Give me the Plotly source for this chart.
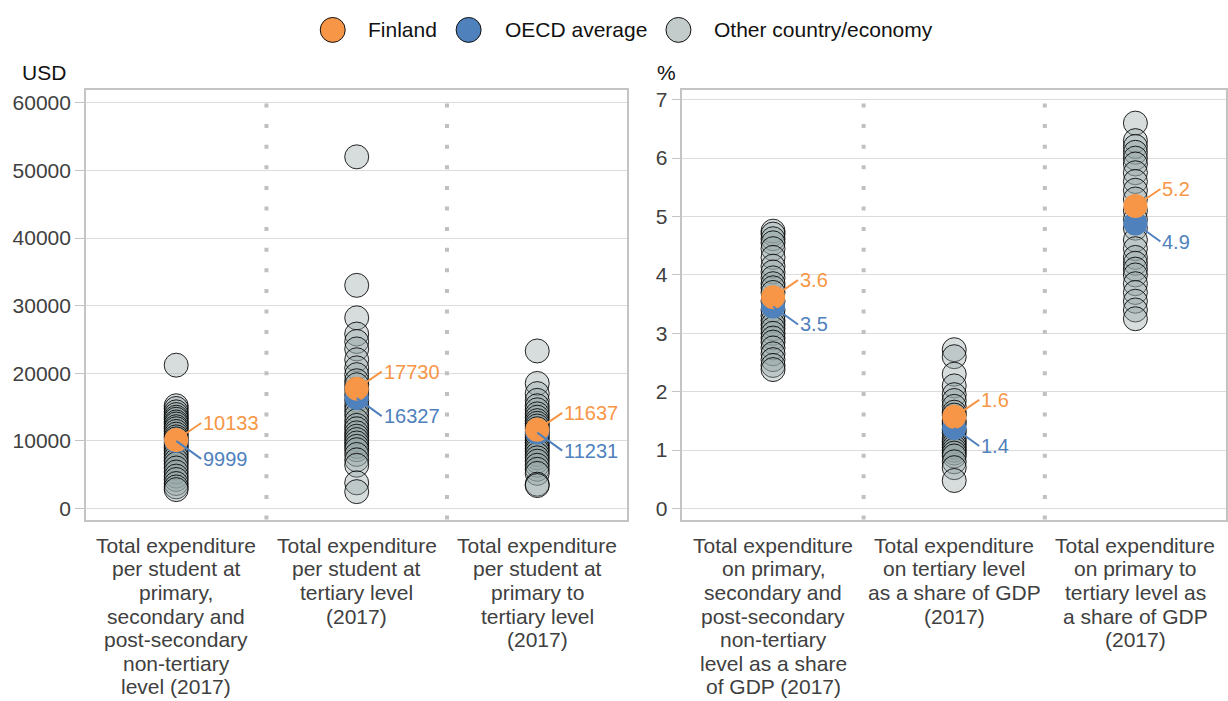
import plotly.graph_objects as go

# ---------------- data ----------------
usd_categories = [
    ["Total expenditure", "per student at", "primary,", "secondary and", "post-secondary", "non-tertiary", "level (2017)"],
    ["Total expenditure", "per student at", "tertiary level", "(2017)"],
    ["Total expenditure", "per student at", "primary to", "tertiary level", "(2017)"],
]
pct_categories = [
    ["Total expenditure", "on primary,", "secondary and", "post-secondary", "non-tertiary", "level as a share", "of GDP (2017)"],
    ["Total expenditure", "on tertiary level", "as a share of GDP", "(2017)"],
    ["Total expenditure", "on primary to", "tertiary level as", "a share of GDP", "(2017)"],
]

usd_other_1 = [21200, 15200, 14800, 14300, 13900, 13500, 13200, 12800, 12500, 12100, 11800, 11400,
               11000, 10600, 10300, 9800, 9400, 9000, 8600, 8100, 7600, 7100, 6600, 6000, 5400,
               4800, 4300, 3700, 3200, 2800]
usd_other_2 = [52000, 33000, 28200, 25800, 24700, 23600, 22000, 20800, 19800, 18900, 18300, 17600,
               16800, 16000, 15200, 14500, 13800, 13000, 12300, 11800, 11200, 10700, 10200, 9700,
               9200, 8700, 8000, 7200, 6400, 3800, 2500]
usd_other_3 = [23300, 18500, 17000, 16000, 15200, 14600, 14000, 13500, 13000, 12600, 12200, 11800,
               11300, 10900, 10500, 10100, 9700, 9300, 8900, 8500, 8000, 7500, 7000, 6400, 5800,
               5200, 3600, 3400]
usd_finland = [10133, 17730, 11637]
usd_oecd = [9999, 16327, 11231]

pct_other_1 = [4.75, 4.70, 4.62, 4.55, 4.45, 4.30, 4.15, 4.05, 3.95, 3.85, 3.78, 3.70, 3.55, 3.40,
               3.30, 3.22, 3.15, 3.08, 3.00, 2.92, 2.85, 2.75, 2.65, 2.55, 2.45, 2.38]
pct_other_2 = [2.72, 2.60, 2.30, 2.10, 1.95, 1.85, 1.75, 1.65, 1.60, 1.50, 1.45, 1.35, 1.30, 1.20,
               1.15, 1.10, 1.05, 1.00, 0.95, 0.90, 0.80, 0.70, 0.48]
pct_other_3 = [6.60, 6.30, 6.20, 6.10, 6.00, 5.90, 5.75, 5.60, 5.45, 5.30, 5.10, 4.95, 4.80, 4.60,
               4.45, 4.30, 4.20, 4.10, 4.00, 3.85, 3.70, 3.55, 3.40, 3.25]
pct_finland = [3.62, 1.57, 5.18]
pct_oecd = [3.46, 1.38, 4.88]

usd_ticks = [0, 10000, 20000, 30000, 40000, 50000, 60000]
pct_ticks = [0, 1, 2, 3, 4, 5, 6, 7]

legend_names = ["Finland", "OECD average", "Other country/economy"]

# ---------------- style ----------------
W, H = 1228, 701
FONT = "Arial, Liberation Sans, sans-serif"
ORANGE = "#F79646"
BLUE = "#4F81BD"
OTHER_FILL = "rgba(150,165,165,0.38)"
AXIS_COL = "#c4c4c4"
GRID_COL = "#dcdcdc"
TEXT_COL = "#404040"

def px_x(p):
    return p / W

def px_y(p):
    return (H - p) / H

fig = go.Figure()

panels = [
    dict(xa="x", ya="y", others=[usd_other_1, usd_other_2, usd_other_3],
         fin=usd_finland, oecd=usd_oecd, fmt=lambda v: f"{v:d}", cats=usd_categories),
    dict(xa="x2", ya="y2", others=[pct_other_1, pct_other_2, pct_other_3],
         fin=pct_finland, oecd=pct_oecd, fmt=lambda v: f"{v:.1f}", cats=pct_categories),
]

annotations = []
shapes = []

for p in panels:
    for i, vals in enumerate(p["others"]):
        fig.add_trace(go.Scatter(
            x=[i] * len(vals), y=vals, xaxis=p["xa"], yaxis=p["ya"], mode="markers",
            marker=dict(size=24, color=OTHER_FILL, line=dict(color="rgba(0,0,0,0.85)", width=1)),
            showlegend=False, hoverinfo="y"))
    fig.add_trace(go.Scatter(
        x=[0, 1, 2], y=p["oecd"], xaxis=p["xa"], yaxis=p["ya"], mode="markers",
        marker=dict(size=24, color=BLUE, line=dict(width=0)), showlegend=False))
    fig.add_trace(go.Scatter(
        x=[0, 1, 2], y=p["fin"], xaxis=p["xa"], yaxis=p["ya"], mode="markers",
        marker=dict(size=24, color=ORANGE, line=dict(width=0)), showlegend=False))
    for i in range(3):
        annotations.append(dict(
            x=i, y=p["oecd"][i], xref=p["xa"], yref=p["ya"], text=p["fmt"](p["oecd"][i]),
            showarrow=True, arrowhead=0, arrowwidth=2, arrowcolor=BLUE, ax=25, ay=18,
            xanchor="left", yanchor="middle", font=dict(family=FONT, size=20, color=BLUE)))
        annotations.append(dict(
            x=i, y=p["fin"][i], xref=p["xa"], yref=p["ya"], text=p["fmt"](p["fin"][i]),
            showarrow=True, arrowhead=0, arrowwidth=2, arrowcolor=ORANGE, ax=25, ay=-17,
            xanchor="left", yanchor="middle", font=dict(family=FONT, size=20, color=ORANGE)))
    # category labels, one line per annotation
    for i, lines in enumerate(p["cats"]):
        for j, line in enumerate(lines):
            annotations.append(dict(
                x=i, xref=p["xa"], y=px_y(545 + j * 23.6), yref="paper", text=line,
                showarrow=False, xanchor="center", yanchor="middle",
                font=dict(family=FONT, size=21, color=TEXT_COL)))
    # dotted separators
    for s in (0.5, 1.5):
        shapes.append(dict(type="line", xref=p["xa"], x0=s, x1=s,
                           yref=p["ya"] + " domain", y0=0, y1=1,
                           line=dict(color="#c0c0c0", width=4, dash="4px,16.6px")))

# axis unit titles
annotations.append(dict(x=px_x(20), y=px_y(71), xref="paper", yref="paper", text="USD",
                        showarrow=False, xanchor="left", yanchor="middle",
                        font=dict(family=FONT, size=21, color="#111")))
annotations.append(dict(x=px_x(656), y=px_y(71), xref="paper", yref="paper", text="%",
                        showarrow=False, xanchor="left", yanchor="middle",
                        font=dict(family=FONT, size=21, color="#111")))

# custom legend (large markers)
legend_colors = [ORANGE, BLUE, "#c3cbcb"]
legend_cx = [333, 469, 679]
legend_tx = [366, 503, 713]
for name, col, cx, tx in zip(legend_names, legend_colors, legend_cx, legend_tx):
    r = 12.5
    shapes.append(dict(type="circle", xref="paper", yref="paper",
                       x0=px_x(cx - r), x1=px_x(cx + r), y0=px_y(28 + r), y1=px_y(28 - r),
                       fillcolor=col, line=dict(color="#111", width=1)))
    annotations.append(dict(x=px_x(tx), y=px_y(28), xref="paper", yref="paper", text=name,
                            showarrow=False, xanchor="left", yanchor="middle",
                            font=dict(family=FONT, size=21, color="#111")))

y_dom = [px_y(519), px_y(88)]
common_x = dict(range=[-0.5, 2.5], showticklabels=False, showgrid=False, zeroline=False,
                showline=True, mirror=True, linecolor=AXIS_COL, linewidth=1.5, ticks="", fixedrange=True)
common_y = dict(showgrid=True, gridcolor=GRID_COL, gridwidth=1, zeroline=False, showline=True,
                mirror=True, linecolor=AXIS_COL, linewidth=1.5, ticks="outside", ticklen=9,
                tickcolor=AXIS_COL, tickfont=dict(family=FONT, size=21, color=TEXT_COL))

fig.update_layout(
    width=W, height=H, margin=dict(l=0, r=0, t=0, b=0),
    paper_bgcolor="white", plot_bgcolor="white", showlegend=False,
    xaxis=dict(domain=[px_x(86), px_x(628)], anchor="y", **common_x),
    yaxis=dict(domain=y_dom, anchor="x", range=[-1622, 61920], tickvals=usd_ticks,
               ticktext=[str(t) for t in usd_ticks], **common_y),
    xaxis2=dict(domain=[px_x(683), px_x(1227)], anchor="y2", **common_x),
    yaxis2=dict(domain=y_dom, anchor="x2", range=[-0.188, 7.171], tickvals=pct_ticks,
                ticktext=[str(t) for t in pct_ticks], **common_y),
    annotations=annotations, shapes=shapes,
)

fig.write_html("out.html", config={"displayModeBar": False},
               post_script="document.body.style.margin='0px';document.body.style.overflow='hidden';")
